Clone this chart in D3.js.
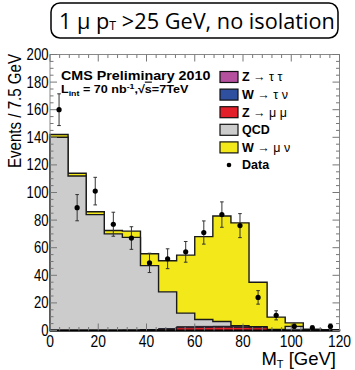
<!DOCTYPE html>
<html>
<head>
<meta charset="utf-8">
<script src="https://cdn.jsdelivr.net/npm/d3@7"></script>
<style>
body { margin: 0; background: #fff; }
svg { display: block; }
</style>
</head>
<body>
<div class="graph"></div>
<script>
// bins of 7.5 GeV in transverse mass
var binEdges = [0, 7.5, 15, 22.5, 30, 37.5, 45, 52.5, 60, 67.5, 75, 82.5, 90, 97.5, 105, 112.5, 120];

// data points and their errors
var dataCounts = [160, 89, 101, 77, 67, 49, 52, 57, 71, 84, 76, 24, 11, 3, 2, 3];
var dataErrors = [11.5, 9.5, 10, 8.7, 8.2, 7, 7.2, 7.5, 8.4, 9.2, 8.7, 4.9, 3.3, 1.7, 1.4, 1.7];

// MC stack, bottom to top
var zmumu   = [0, 0, 0, 0, 0, 0.3, 0.8, 2, 2.2, 2.3, 2.2, 2, 0.3, 0.1, 0, 0];
var wtaunu  = [0.1, 0.1, 0.1, 0.1, 0.2, 0.3, 0.4, 0.5, 0.5, 0.5, 0.4, 0.3, 0.1, 0, 0, 0];
var ztautau = [0, 0, 0, 0, 0, 0.1, 0.2, 0.3, 0.3, 0.3, 0.2, 0.1, 0, 0, 0, 0];
var qcd     = [139.9, 111.9, 83.9, 69.9, 67.3, 46.3, 26.6, 9.8, 5, 3.4, 0.7, 0.3, 0.3, 2.9, 0.5, 0.3];
var wmunu   = [2, 2, 2, 2.5, 4.5, 8.6, 22.5, 42, 60, 76.5, 74.5, 32.3, 9, 2.5, 0.5, 0.2];

var xTicks = [0, 20, 40, 60, 80, 100, 120];
var yTicks = [0, 20, 40, 60, 80, 100, 120, 140, 160, 180, 200];

var keys = ["zmumu", "wtaunu", "ztautau", "qcd", "wmunu"];
var fills = {zmumu: "#e3202a", wtaunu: "#2f4f9f", ztautau: "#b5509f", qcd: "#cccccc", wmunu: "#f2e81a"};

var legendItems = [
    {key: "ztautau", a: "Z", b: " \u2192 \u03c4 \u03c4"},
    {key: "wtaunu", a: "W", b: " \u2192 \u03c4 \u03bd"},
    {key: "zmumu", a: "Z", b: " \u2192 \u03bc \u03bc"},
    {key: "qcd", a: "QCD", b: ""},
    {key: "wmunu", a: "W", b: " \u2192 \u03bc \u03bd"},
    {key: "data", a: "Data", b: ""}
];

var width = 355, height = 370;
var x0 = 50, x1 = 339.5, y0 = 330.5, y1 = 54.5;

var x = d3.scaleLinear().domain([0, 120]).range([x0, x1]);
var y = d3.scaleLinear().domain([0, 200]).range([y0, y1]);

var svg = d3.select(".graph").append("svg")
    .attr("width", width)
    .attr("height", height)
    .style("font-family", "'Liberation Sans', Arial, sans-serif");

// squeeze a text to a given width, anchored at its start
function fitWidth(t, tx, ty, w) {
    var bw = t.node().getBBox().width;
    t.attr("transform", "translate(" + tx + "," + ty + ") scale(" + (w / bw) + ",1)");
}

// stacked histogram
var rows = binEdges.slice(0, -1).map(function(e, i) {
    return {zmumu: zmumu[i], wtaunu: wtaunu[i], ztautau: ztautau[i], qcd: qcd[i], wmunu: wmunu[i]};
});
var series = d3.stack().keys(keys)(rows);

var area = d3.area()
    .curve(d3.curveStepAfter)
    .x(function(d) { return x(d.e); })
    .y0(y(0))
    .y1(function(d) { return y(d.v); });

series.slice().reverse().forEach(function(s) {
    var pts = s.map(function(d, i) { return {e: binEdges[i], v: d[1]}; });
    pts.push({e: binEdges[binEdges.length - 1], v: s[s.length - 1][1]});
    var big = (s.key === "wmunu" || s.key === "qcd");
    svg.append("path")
        .datum(pts)
        .attr("d", area)
        .style("fill", fills[s.key])
        .style("stroke", "#1a1a1a")
        .style("stroke-width", big ? 1.4 : 0.8)
        .style("stroke-linejoin", "miter");
});

// frame
svg.append("rect")
    .attr("x", x0).attr("y", y1)
    .attr("width", x1 - x0).attr("height", y0 - y1)
    .style("fill", "none")
    .style("stroke", "#888")
    .style("stroke-width", 1);

svg.append("line")
    .attr("x1", x0).attr("x2", x1)
    .attr("y1", y0).attr("y2", y0)
    .style("stroke", "#000").style("stroke-width", 2);

// ticks on all four sides
var xMinor = d3.range(0, 121, 4);
var yMinor = d3.range(0, 201, 5);
var tickCol = "#777";

xMinor.forEach(function(v) {
    var len = (v % 20 === 0) ? 7 : 3.5;
    svg.append("line").attr("x1", x(v)).attr("x2", x(v)).attr("y1", y0).attr("y2", y0 - len)
        .style("stroke", tickCol);
    svg.append("line").attr("x1", x(v)).attr("x2", x(v)).attr("y1", y1).attr("y2", y1 + len)
        .style("stroke", tickCol);
});
yMinor.forEach(function(v) {
    var len = (v % 20 === 0) ? 7 : 3.5;
    svg.append("line").attr("x1", x0).attr("x2", x0 + len).attr("y1", y(v)).attr("y2", y(v))
        .style("stroke", tickCol);
    svg.append("line").attr("x1", x1).attr("x2", x1 - len).attr("y1", y(v)).attr("y2", y(v))
        .style("stroke", tickCol);
});

// tick labels, narrow like the original
svg.selectAll(".xl").data(xTicks).enter().append("text")
    .attr("x", function(d) { return x(d); })
    .attr("y", 347)
    .attr("text-anchor", "middle")
    .style("font-size", "16.5px")
    .attr("textLength", function(d) { return String(d).length * 7.7; })
    .attr("lengthAdjust", "spacingAndGlyphs")
    .text(function(d) { return d; });

svg.selectAll(".yl").data(yTicks).enter().append("text")
    .attr("x", 48.5)
    .attr("y", function(d) { return y(d); })
    .attr("dy", "0.33em")
    .attr("text-anchor", "end")
    .style("font-size", "16.5px")
    .attr("textLength", function(d) { return String(d).length * 7.3; })
    .attr("lengthAdjust", "spacingAndGlyphs")
    .text(function(d) { return d; });

// axis titles
var xt = svg.append("text")
    .attr("x", 336).attr("y", 365)
    .attr("text-anchor", "end")
    .style("font-size", "18.5px");
xt.append("tspan").text("M");
xt.append("tspan").attr("dy", 3).style("font-size", "11px").text("T");
xt.append("tspan").attr("dy", -3).text(" [GeV]");

svg.append("text")
    .attr("transform", "translate(21,54) rotate(-90)")
    .attr("text-anchor", "end")
    .style("font-size", "18px")
    .attr("textLength", 114)
    .attr("lengthAdjust", "spacingAndGlyphs")
    .text("Events / 7.5 GeV");

// data with error bars
var pts = dataCounts.map(function(c, i) {
    return {c: (binEdges[i] + binEdges[i + 1]) / 2, v: c, e: dataErrors[i]};
});
var g = svg.selectAll(".pt").data(pts).enter().append("g");
g.append("line")
    .attr("x1", function(d) { return x(d.c); })
    .attr("x2", function(d) { return x(d.c); })
    .attr("y1", function(d) { return y(d.v - d.e); })
    .attr("y2", function(d) { return y(d.v + d.e); })
    .style("stroke", "#333").style("stroke-width", 1);
[-1, 1].forEach(function(sgn) {
    g.append("line")
        .attr("x1", function(d) { return x(d.c) - 1.8; })
        .attr("x2", function(d) { return x(d.c) + 1.8; })
        .attr("y1", function(d) { return y(d.v + sgn * d.e); })
        .attr("y2", function(d) { return y(d.v + sgn * d.e); })
        .style("stroke", "#333").style("stroke-width", 1);
});
g.append("circle")
    .attr("cx", function(d) { return x(d.c); })
    .attr("cy", function(d) { return y(d.v); })
    .attr("r", 2.6)
    .style("fill", "#000");

// CMS labels
var cms = svg.append("text")
    .style("font-size", "12px").style("font-weight", "bold")
    .text("CMS Preliminary 2010");
fitWidth(cms, 61, 80, 150);

var lumi = svg.append("text")
    .style("font-size", "11.5px").style("font-weight", "bold");
lumi.append("tspan").text("L");
lumi.append("tspan").attr("dy", 2.5).style("font-size", "8px").text("int");
lumi.append("tspan").attr("dy", -2.5).text(" = 70 nb");
lumi.append("tspan").attr("dy", -4).style("font-size", "8px").text("-1");
lumi.append("tspan").attr("dy", 4).text(",\u221a");
lumi.append("tspan").style("text-decoration", "overline").text("s");
lumi.append("tspan").text("=7TeV");
fitWidth(lumi, 61, 93, 128);

// legend
var legY = [77, 94.6, 112.2, 129.8, 147.4, 165];
legendItems.forEach(function(it, i) {
    var cy = legY[i];
    if (it.key === "data") {
        svg.append("circle").attr("cx", 229).attr("cy", cy).attr("r", 2.3).style("fill", "#000");
    } else {
        svg.append("rect")
            .attr("x", 220).attr("y", cy - 5.5)
            .attr("width", 18).attr("height", 11)
            .style("fill", fills[it.key])
            .style("stroke", "#111").style("stroke-width", 1.2);
    }
    var t = svg.append("text")
        .attr("x", 242).attr("y", cy + 4.3)
        .style("font-size", "12.5px");
    t.append("tspan").style("font-weight", "bold").text(it.a);
    if (it.b) t.append("tspan").style("font-size", "12.5px").text(it.b);
});

// title box
svg.append("rect")
    .attr("x", 51).attr("y", 3)
    .attr("width", 287).attr("height", 35)
    .attr("rx", 9)
    .style("fill", "#fff")
    .style("stroke", "#000")
    .style("stroke-width", 1.5);

var title = svg.append("text")
    .style("font-family", "'Open Sans', sans-serif")
    .style("font-size", "21px");
title.append("tspan").text("1 \u03bc p");
title.append("tspan").attr("dy", 1).style("font-size", "12px").text("T");
title.append("tspan").attr("dy", -1).text(" >25 GeV, no isolation");
fitWidth(title, 59, 28.5, 276);
</script>
</body>
</html>
